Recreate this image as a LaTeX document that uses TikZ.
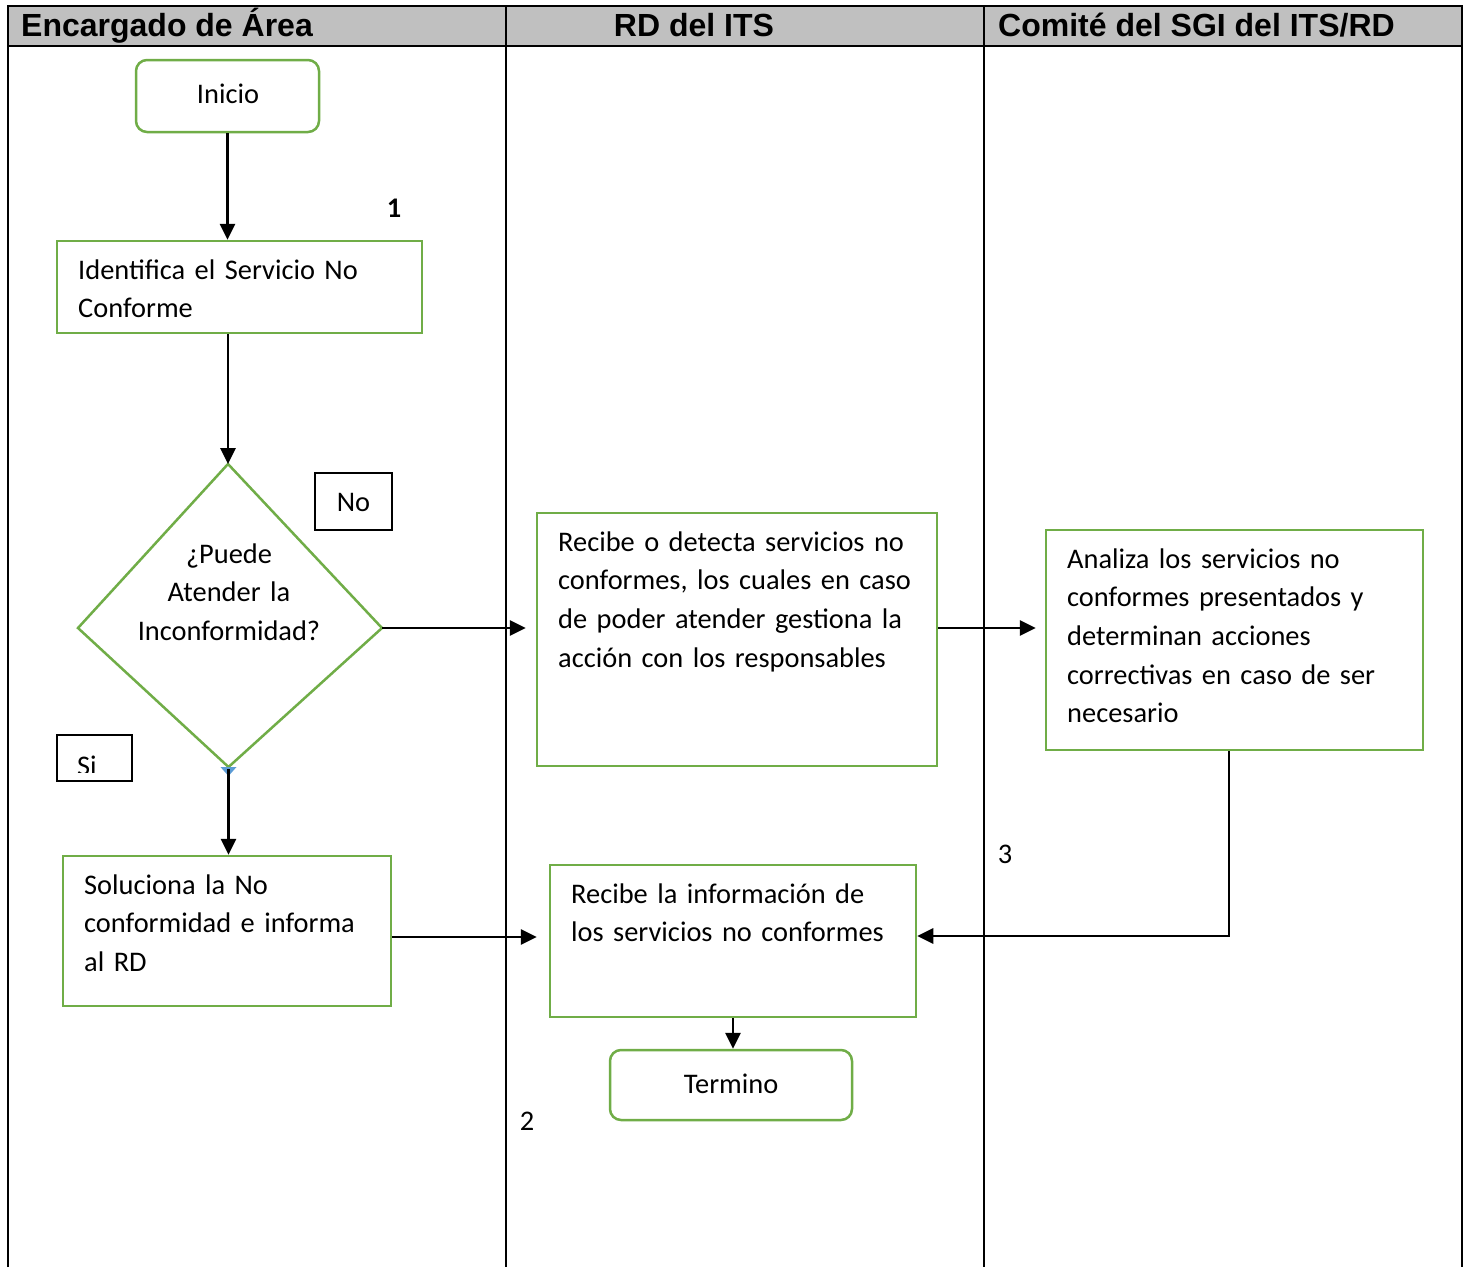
\documentclass[tikz,border=0pt]{standalone}
\usepackage{fontspec}
\setmainfont{Carlito}
\newfontfamily\hdrfont{Liberation Sans}
\usetikzlibrary{arrows.meta}
\definecolor{boxgreen}{HTML}{70AD47}
\definecolor{hdrgray}{HTML}{C0C0C0}
\definecolor{tipblue}{HTML}{5B9BD5}
\newcommand\bodyfont{\fontsize{28.4}{38.7}\selectfont}
\newcommand\headfont{\hdrfont\bfseries\fontsize{32}{38}\selectfont}

\begin{document}
\begin{tikzpicture}[x=1pt,y=-1pt,
  lane/.style={line width=2pt},
  hdr/.style={font=\headfont, inner sep=0pt},
  gbox/.style={draw=boxgreen, line width=2.5pt, rectangle, inner sep=0pt},
  rbox/.style={gbox, rounded corners=11pt},
  txt/.style={inner sep=0pt, text width=420pt, font=\bodyfont, anchor=base west},
  lbl/.style={inner sep=0pt, font=\bodyfont},
  tagbox/.style={draw, line width=1.5pt, inner sep=0pt},
  flow/.style={line width=2.8pt, -{Triangle[length=16pt,width=15pt]}},
]
\useasboundingbox (0,0) rectangle (1467,1267);
\fill[white] (0,0) rectangle (1467,1267);

% swimlane table
\fill[hdrgray] (8,6) rectangle (1462,46);
\draw[lane] (8,1267) -- (8,6) -- (1462,6) -- (1462,1267);
\draw[lane] (8,46) -- (1462,46);
\draw[lane] (506,6) -- (506,1267);
\draw[lane] (984,6) -- (984,1267);
\node[hdr, anchor=base west] (h1) at (21,36) {Encargado de Área};
\node[hdr, anchor=base] (h2) at (694,36) {RD del ITS};
\node[hdr, anchor=base west] (h3) at (998,36) {Comité del SGI del ITS/RD};

% lane 1
\node[rbox, minimum width=183pt, minimum height=72pt] (inicio) at (227.5,96) {};
\node[lbl, anchor=base] (tinicio) at (228,103.5) {Inicio};
\node[lbl, font=\bodyfont\bfseries, anchor=base] (n1) at (394,217) {1};

\node[gbox, minimum width=365pt, minimum height=92pt] (ident) at (239.5,287) {};
\node[txt] (tident) at (78,279) {Identifica el Servicio No\\Conforme};

\coordinate (dT) at (228,464);
\coordinate (dR) at (382,628);
\coordinate (dB) at (228.5,767);
\coordinate (dL) at (78,628);
\draw[draw=boxgreen, line width=2.5pt, line join=miter] (dT) -- (dR) -- (dB) -- (dL) -- cycle;
\node[lbl, text width=240pt, anchor=base] (tdec) at (229,563) {\centering ¿Puede\\Atender la\\Inconformidad?\par};

\node[tagbox, minimum width=77pt, minimum height=57pt] (no) at (353.5,501.5) {};
\node[lbl, anchor=base] (tno) at (353.5,511) {No};
\node[tagbox, minimum width=75pt, minimum height=46pt] (si) at (94.5,758) {};
\begin{scope}
  \clip (57,735) rectangle (132,772);
  \node[lbl, anchor=base west] (tsi) at (77,775) {Si};
\end{scope}

\node[gbox, minimum width=328pt, minimum height=150pt] (solu) at (227,931) {};
\node[txt] (tsolu) at (84,894) {Soluciona la No\\conformidad e informa\\al RD};

% lane 2
\node[gbox, minimum width=400pt, minimum height=253pt] (recibe) at (737,639.5) {};
\node[txt] (trecibe) at (558,551) {Recibe o detecta servicios no\\conformes, los cuales en caso\\de poder atender gestiona la\\acción con los responsables};

\node[gbox, minimum width=366pt, minimum height=152pt] (info) at (733,941) {};
\node[txt] (tinfo) at (571,903) {Recibe la información de\\los servicios no conformes};

\node[rbox, minimum width=242pt, minimum height=70pt] (fin) at (731,1085) {};
\node[lbl, anchor=base] (tfin) at (731,1093) {Termino};
\node[lbl, anchor=base] (n2) at (527,1130) {2};

% lane 3
\node[gbox, minimum width=377pt, minimum height=220pt] (analiza) at (1234.5,640) {};
\node[txt] (tanaliza) at (1067,568) {Analiza los servicios no\\conformes presentados y\\determinan acciones\\correctivas en caso de ser\\necesario};
\node[lbl, anchor=base] (n3) at (1005,863) {3};

% connectors
\draw[flow] (inicio.south) -- (inicio.south |- ident.north);
\draw[flow] (dT |- ident.south) -- (dT);
\fill[tipblue] ([xshift=-8pt]dB) -- ([xshift=8pt]dB) -- ([yshift=-9pt]dB) -- cycle;
\draw[flow] ([yshift=-2pt]dB) -- (dB |- solu.north);
\draw[flow, shorten >=10pt] (dR) -- (dR -| recibe.west);
\draw[flow, shorten >=9pt] (recibe.east |- dR) -- (analiza.west |- dR);
\draw[flow] ([xshift=-5.5pt]analiza.south) |- ([yshift=5pt]info.east);
\draw[flow, shorten >=12pt] ([yshift=-6pt]solu.east) -- ([yshift=-6pt]solu.east -| info.west);
\draw[flow] (info.south) -- (info.south |- fin.north);
\end{tikzpicture}
\end{document}
